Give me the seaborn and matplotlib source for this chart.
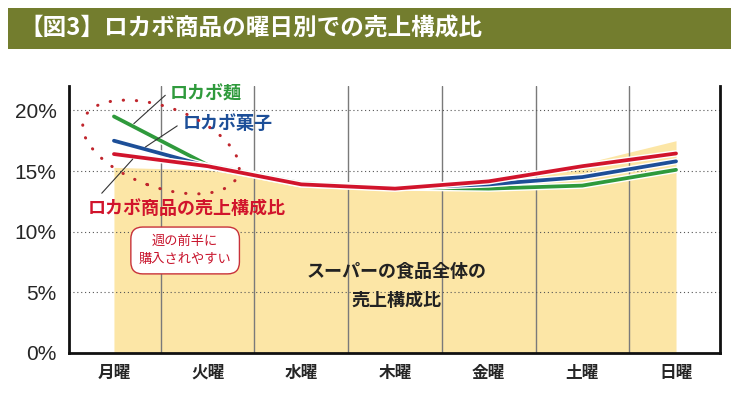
import numpy as np
import pandas as pd
import matplotlib
matplotlib.use("Agg")
import matplotlib.pyplot as plt
import matplotlib.patheffects as pe
from matplotlib.patches import Ellipse, Rectangle
import seaborn as sns

# data (share of weekly sales, %)
days = ['月曜', '火曜', '水曜', '木曜', '金曜', '土曜', '日曜']
super_total = [15.3, 15.1, 13.9, 13.6, 14.3, 15.6, 17.5]
lowcarb_all = [16.4, 15.4, 13.9, 13.55, 14.15, 15.4, 16.45]
lowcarb_sweets = [17.5, 15.4, 13.9, 13.6, 13.9, 14.5, 15.8]
lowcarb_noodles = [19.5, 15.5, 14.0, 13.65, 13.55, 13.8, 15.1]
yticks = [0, 5, 10, 15, 20]
ytick_labels = ['0%', '5%', '10%', '15%', '20%']

series_names = ['ロカボ麺', 'ロカボ菓子', 'ロカボ商品の売上構成比']
series_colors = ['#2f9a3c', '#1d4f98', '#d1142c']

sns.set_style('white')
plt.rcParams['font.family'] = ['Noto Sans CJK JP', 'DejaVu Sans']

df = pd.DataFrame({
    'pos': list(range(len(days))) * 3,
    'value': lowcarb_noodles + lowcarb_sweets + lowcarb_all,
    'series': [n for n in series_names for _ in days],
})

fig = plt.figure(figsize=(7.37, 3.97), dpi=100)
ax = fig.add_axes([0.0936, 0.111, 0.8834, 0.672])

# supermarket total as filled area
ax.fill_between(range(len(days)), super_total, 0, color='#fce6a6', lw=0, zorder=1)

sns.lineplot(data=df, x='pos', y='value', hue='series', hue_order=series_names,
             palette=series_colors, linewidth=2.7, legend=False, ax=ax, zorder=3,
             path_effects=[pe.Stroke(linewidth=4.7, foreground='white'), pe.Normal()])

ax.set_xlim(-0.48, 6.47)
ax.set_ylim(0, 22)
ax.set_xlabel('')
ax.set_ylabel('')

ax.set_xticks(range(len(days)))
ax.set_xticklabels(days, fontsize=12, fontweight='bold')
ax.set_xticks(np.arange(0.5, 6, 1), minor=True)
ax.tick_params(axis='x', which='major', length=0, pad=8)
ax.tick_params(axis='x', which='minor', length=4, width=1, color='#777777')
ax.set_yticks(yticks)
ax.set_yticklabels(ytick_labels, fontsize=15,
                   family=['Liberation Sans Narrow', 'Liberation Sans'])
ax.tick_params(axis='y', length=0, pad=9)

ax.set_axisbelow('line')
ax.xaxis.grid(True, which='minor', color='#7a7a7a', lw=1)
ax.yaxis.grid(True, which='major', color='#555555', lw=0.8, linestyle=(0, (1, 2.5)))

for side in ['left', 'right', 'bottom']:
    ax.spines[side].set_color('#111111')
    ax.spines[side].set_linewidth(2)
ax.spines['top'].set_visible(False)

# labels with leader lines
ax.annotate('', xy=(0.19, 18.75), xytext=(0.57, 21.4),
            arrowprops=dict(arrowstyle='-', color='#333333', lw=0.8))
ax.text(0.59, 21.35, 'ロカボ麺', color=series_colors[0], fontsize=13,
        fontweight='bold', ha='left', va='center')
ax.annotate('', xy=(0.31, 16.85), xytext=(0.70, 18.85),
            arrowprops=dict(arrowstyle='-', color='#333333', lw=0.8))
ax.text(0.73, 18.95, 'ロカボ菓子', color=series_colors[1], fontsize=13,
        fontweight='bold', ha='left', va='center')
ax.annotate('', xy=(0.22, 16.15), xytext=(-0.15, 13.0),
            arrowprops=dict(arrowstyle='-', color='#333333', lw=0.8))
ax.text(-0.28, 11.95, 'ロカボ商品の売上構成比', color=series_colors[2], fontsize=13,
        fontweight='bold', ha='left', va='center')

ax.text(0.76, 8.45, '週の前半に\n購入されやすい', color='#c8142c', fontsize=9.5,
        ha='center', va='center', linespacing=1.5,
        bbox=dict(boxstyle='round,pad=0.6,rounding_size=0.9', fc='white',
                  ec='#c8323a', lw=1))

ax.text(3.02, 5.5, 'スーパーの食品全体の\n売上構成比', color='#222222', fontsize=13,
        fontweight='bold', ha='center', va='center', linespacing=1.7)

# dotted circle around the Monday peak
ell = Ellipse((1.61, 2.50), 1.64, 0.80, angle=-20, transform=fig.dpi_scale_trans,
              fill=False, ec='#c0262d', lw=2.2, linestyle=(0, (0.1, 4.2)), zorder=5)
ell.set_capstyle('round')
fig.add_artist(ell)

# title bar
fig.add_artist(Rectangle((0.0109, 0.8766), 0.9811, 0.1034, transform=fig.transFigure,
                         fc='#737d2e', ec='none'))
fig.text(0.027, 0.928, '【図3】ロカボ商品の曜日別での売上構成比', color='white',
         fontsize=17, fontweight='bold', ha='left', va='center')

fig.savefig('out.png', dpi=100)
